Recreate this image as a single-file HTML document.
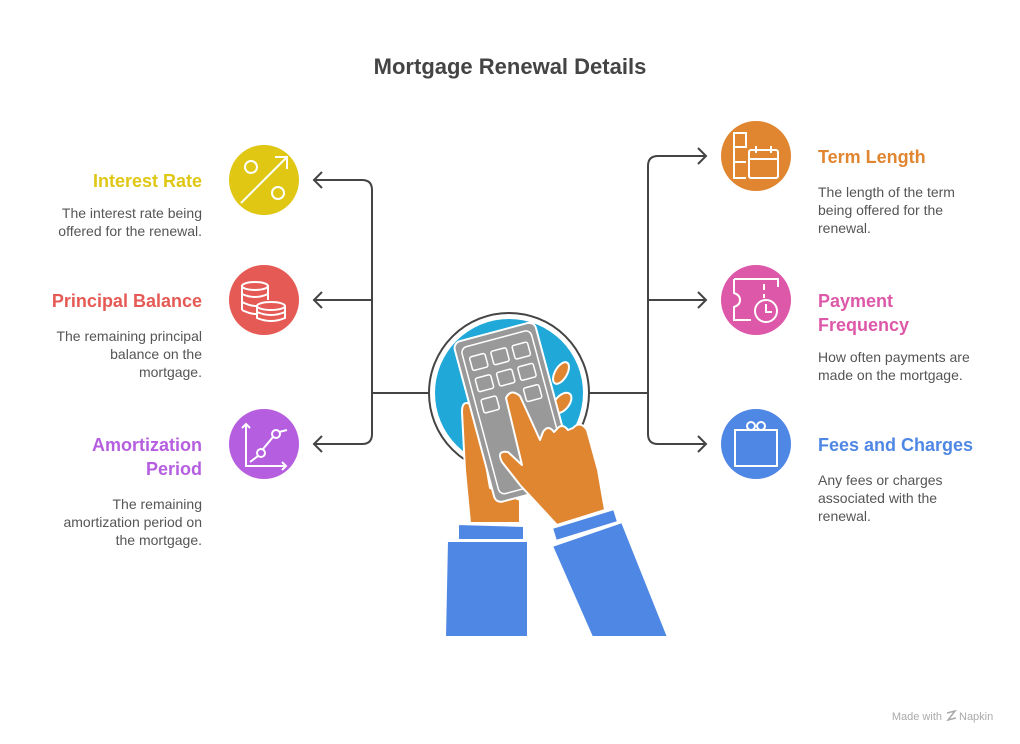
<!DOCTYPE html>
<html><head><meta charset="utf-8"><style>
body{margin:0;background:#fff;}
svg{display:block;font-family:"Liberation Sans",sans-serif;}
.h{font-size:18px;font-weight:bold;}
.d{font-size:14px;fill:#555;}
</style></head><body>
<svg width="1020" height="744" viewBox="0 0 1020 744">
<text x="510" y="74" text-anchor="middle" font-size="22" font-weight="bold" fill="#444">Mortgage Renewal Details</text>
<g fill="none" stroke="#444" stroke-width="2">
<path d="M314 180 H362 Q372 180 372 190 V434 Q372 444 362 444 H314"/>
<path d="M314 300 H372 M372 393 H430"/>
<path d="M322 172 L314 180 L322 188 M322 292 L314 300 L322 308 M322 436 L314 444 L322 452"/>
<path d="M706 156 H658 Q648 156 648 166 V434 Q648 444 658 444 H706"/>
<path d="M648 300 H706 M590 393 H648"/>
<path d="M698 148 L706 156 L698 164 M698 292 L706 300 L698 308 M698 436 L706 444 L698 452"/>
</g>
<circle cx="264" cy="180" r="35" fill="#dfc714"/>
<circle cx="264" cy="300" r="35" fill="#e55a55"/>
<circle cx="264" cy="444" r="35" fill="#b55ee0"/>
<circle cx="756" cy="156" r="35" fill="#e08530"/>
<circle cx="756" cy="300" r="35" fill="#dd58a8"/>
<circle cx="756" cy="444" r="35" fill="#4f88e4"/>
<g fill="none" stroke="#fff" stroke-width="2">
<circle cx="251" cy="167" r="6"/><circle cx="278" cy="193" r="6"/><path d="M241 203 L287 157 M275 157 H287 V169"/>
<ellipse cx="255" cy="286" rx="13" ry="4"/><path d="M242 286 V310 M268 286 V300 M242 294 Q255 300 268 294 M242 302 Q250 306 256 306 M242 310 Q250 314 256 314"/>
<ellipse cx="271" cy="306" rx="14" ry="4"/><path d="M257 306 V318 Q271 324 285 318 V306 M257 312 Q271 318 285 312"/>
<path d="M246 424 V466 H286 M242 428 L246 424 L250 428 M282 462 L286 466 L282 470"/><circle cx="261" cy="453" r="4"/><circle cx="276" cy="434" r="4"/><path d="M250 462 L258 456 M263 449 L273 437 M279 432 L287 430"/>
<rect x="734" y="133" width="12" height="14"/><path d="M734 147 V178 H746 M734 162 H746"/><rect x="749" y="150" width="29" height="28" rx="2"/><path d="M749 159 H778 M756 146 V153 M771 146 V153"/>
<path d="M734 279 H778 V287 M734 279 V293 Q740 295 740 300 Q740 305 734 307 V320 H751 M764 284 V290 M764 294 V298"/><circle cx="766" cy="311" r="11"/><path d="M766 304 V312 H772"/>
<rect x="735" y="430" width="42" height="36"/><circle cx="751" cy="426" r="4"/><circle cx="761" cy="426" r="4"/>
</g>
<!-- center -->
<circle cx="509" cy="393" r="80" fill="#fff" stroke="#444" stroke-width="2"/>
<circle cx="509" cy="393" r="74" fill="#1fa8d8"/>
<g stroke="#fff" stroke-width="2" stroke-linejoin="round">
<ellipse cx="561" cy="373" rx="6" ry="12" transform="rotate(30 561 373)" fill="#e08530"/>
<ellipse cx="562" cy="403" rx="7" ry="12" transform="rotate(40 562 403)" fill="#e08530"/>
<path d="M462 412 Q462 400 470 404 L480 430 L490 488 L520 500 L520 523 L470 523 L465 470 Z" fill="#e08530"/>
<g transform="translate(453 343) rotate(-15)">
<rect x="0" y="0" width="84" height="166" rx="7" fill="#999"/>
<rect x="6" y="7" width="72" height="152" rx="6" fill="none" stroke-width="1.5"/>
<g fill="none" stroke-width="1.5">
<rect x="12" y="18" width="16" height="14" rx="2"/><rect x="34" y="18" width="16" height="14" rx="2"/><rect x="56" y="18" width="16" height="14" rx="2"/>
<rect x="12" y="40" width="16" height="14" rx="2"/><rect x="34" y="40" width="16" height="14" rx="2"/><rect x="56" y="40" width="16" height="14" rx="2"/>
<rect x="12" y="62" width="16" height="14" rx="2"/><rect x="56" y="62" width="16" height="14" rx="2"/>
</g>
</g>
<path d="M506 398 Q511 388 520 396 L540 440 L543 432 Q548 424 554 432 L556 430 Q562 422 568 430 L573 428 Q580 420 587 430 L598 470 L605 510 L557 525 L520 485 L502 462 Q496 450 508 452 L522 465 Z" fill="#e08530"/>
<path d="M458 524 L524 526 L524 540 L458 540 Z" fill="#4f88e4"/>
<path d="M447 541 L528 541 L528 637 L445 637 Z" fill="#4f88e4"/>
<path d="M552 528 L614 509 L618 522 L556 541 Z" fill="#4f88e4"/>
<path d="M552 546 L622 522 L668 637 L592 637 Z" fill="#4f88e4"/>
</g>
<!-- text -->
<text class="h" x="202" y="187" text-anchor="end" fill="#dfc714">Interest Rate</text>
<text class="d" x="202" y="218" text-anchor="end">The interest rate being</text>
<text class="d" x="202" y="236" text-anchor="end">offered for the renewal.</text>
<text class="h" x="202" y="307" text-anchor="end" fill="#e55a55">Principal Balance</text>
<text class="d" x="202" y="341" text-anchor="end">The remaining principal</text>
<text class="d" x="202" y="359" text-anchor="end">balance on the</text>
<text class="d" x="202" y="377" text-anchor="end">mortgage.</text>
<text class="h" x="202" y="451" text-anchor="end" fill="#b55ee0">Amortization</text>
<text class="h" x="202" y="475" text-anchor="end" fill="#b55ee0">Period</text>
<text class="d" x="202" y="509" text-anchor="end">The remaining</text>
<text class="d" x="202" y="527" text-anchor="end">amortization period on</text>
<text class="d" x="202" y="545" text-anchor="end">the mortgage.</text>
<text class="h" x="818" y="163" fill="#e08530">Term Length</text>
<text class="d" x="818" y="197">The length of the term</text>
<text class="d" x="818" y="215">being offered for the</text>
<text class="d" x="818" y="233">renewal.</text>
<text class="h" x="818" y="307" fill="#dd58a8">Payment</text>
<text class="h" x="818" y="331" fill="#dd58a8">Frequency</text>
<text class="d" x="818" y="362">How often payments are</text>
<text class="d" x="818" y="380">made on the mortgage.</text>
<text class="h" x="818" y="451" fill="#4f88e4">Fees and Charges</text>
<text class="d" x="818" y="485">Any fees or charges</text>
<text class="d" x="818" y="503">associated with the</text>
<text class="d" x="818" y="521">renewal.</text>
<text x="942" y="720" text-anchor="end" font-size="11" fill="#aaa">Made with</text>
<path d="M947 713 L955 711 L948 720 L956 718" stroke="#aaa" fill="none" stroke-width="1.5"/>
<text x="959" y="720" font-size="11" fill="#aaa">Napkin</text>
</svg>
</body></html>
